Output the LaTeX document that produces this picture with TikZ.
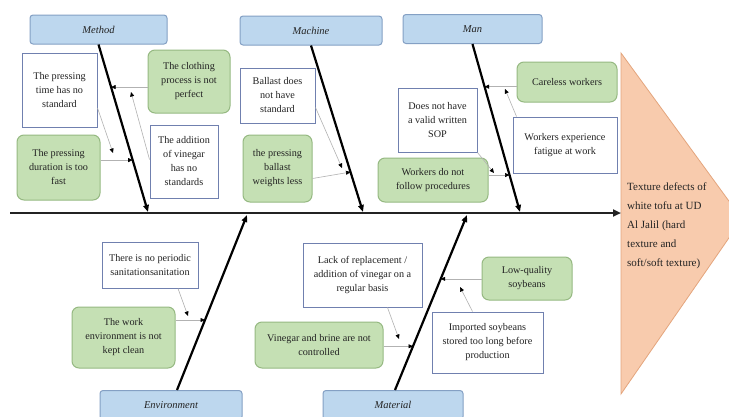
\documentclass[tikz,border=0pt]{standalone}
\usepackage{fontspec}
\setmainfont{Liberation Serif}
\usetikzlibrary{arrows.meta}
\definecolor{blueF}{RGB}{189,215,238}
\definecolor{blueD}{RGB}{132,160,196}
\definecolor{greenF}{RGB}{197,224,180}
\definecolor{greenD}{RGB}{150,185,130}
\definecolor{whiteD}{RGB}{112,128,175}
\definecolor{orangeF}{RGB}{248,203,173}
\definecolor{orangeD}{RGB}{228,165,125}
\definecolor{inkc}{RGB}{35,35,35}
\tikzset{
  labelbox/.style={draw=blueD, line width=1pt, fill=blueF, rounded corners=3pt,
    minimum height=29pt, inner sep=1pt, font=\fontsize{10.5}{13}\selectfont\itshape, text=inkc},
  greenbox/.style={draw=greenD, line width=1pt, fill=greenF, rounded corners=7pt,
    inner sep=2pt, align=center, font=\fontsize{10.2}{14}\selectfont, text=inkc},
  whitebox/.style={draw=whiteD, line width=1pt, fill=white,
    inner sep=2pt, align=center, font=\fontsize{10.2}{14}\selectfont, text=inkc},
  rib/.style={line width=2.2pt, black, -{Triangle[length=7pt,width=5.5pt]}},
  spine/.style={line width=2.6pt, inkc, -{Triangle[length=8pt,width=7pt]}},
  sub/.style={line width=0.6pt, gray!60, -{Triangle[length=4.5pt,width=4pt,black]}},
}
\begin{document}
\begin{tikzpicture}[x=1pt,y=-1pt]
\useasboundingbox (0,0) rectangle (729,416);
\clip (0,0) rectangle (729,416);
\fill[white] (0,0) rectangle (729,416);

% head
\path[fill=orangeF, draw=orangeD, line width=0.8pt] (621,53) -- (742,219) -- (621,394) -- cycle;
\node[anchor=north west, inner sep=0pt, align=left, text=inkc,
  font=\fontsize{11}{19}\selectfont] (head) at (627,183)
  {Texture defects of\\white tofu at UD\\Al Jalil (hard\\texture and\\soft/soft texture)};

% spine
\coordinate (sstart) at (10,213);
\coordinate (send) at (621,213);
\draw[spine] (sstart) -- (send);

% category labels
\node[labelbox, minimum width=137pt] (mlab) at (98.5,29.5) {Method};
\node[labelbox, minimum width=142pt] (klab) at (311,30.5) {Machine};
\node[labelbox, minimum width=139pt] (nlab) at (472.5,29) {Man};
\node[labelbox, minimum width=142pt] (elab) at (171,405) {Environment};
\node[labelbox, minimum width=140pt] (alab) at (393,405) {Material};

% spine points
\coordinate (pm) at (148,212);
\coordinate (pk) at (363,212);
\coordinate (pn) at (520,212);
\coordinate (pe) at (247,215);
\coordinate (pa) at (467,215);

% ribs
\draw[rib] (mlab.south) -- (pm);
\draw[rib] (klab.south) -- (pk);
\draw[rib] (nlab.south) -- (pn);
\draw[rib] ([xshift=6pt]elab.north) -- (pe);
\draw[rib] ([xshift=2pt]alab.north) -- (pa);

% points on ribs
\path (mlab.south) -- (pm) coordinate[pos=0.254] (m1) coordinate[pos=0.69] (m2);
\path (klab.south) -- (pk) coordinate[pos=0.76] (k1);
\path (nlab.south) -- (pn) coordinate[pos=0.254] (n1) coordinate[pos=0.78] (n2);
\path ([xshift=6pt]elab.north) -- (pe) coordinate[pos=0.40] (e1);
\path ([xshift=2pt]alab.north) -- (pa) coordinate[pos=0.635] (a1) coordinate[pos=0.25] (a2);

% Method causes
\node[whitebox, minimum width=75pt, minimum height=74pt] (mtime) at (59.5,90) {The pressing\\time has no\\standard};
\node[greenbox, minimum width=82pt, minimum height=63pt] (mcloth) at (189,81.5) {The clothing\\process is not\\perfect};
\node[greenbox, minimum width=83pt, minimum height=65pt] (mdur) at (58.5,167.5) {The pressing\\duration is too\\fast};
\node[whitebox, minimum width=68pt, minimum height=73pt] (mvin) at (184,161.5) {The addition\\of vinegar\\has no\\standards};
\coordinate (m1s) at (131,92);
\coordinate (m2s) at (113,153);
\draw[sub] (mcloth.west |- m1) -- (m1);
\draw[sub] (mdur.east |- m2) -- (m2);
\draw[sub] ([yshift=2pt]mvin.west) -- (m1s);
\draw[sub] ([yshift=-18pt]mtime.east) -- (m2s);

% Machine causes
\node[whitebox, minimum width=75pt, minimum height=55pt] (kball) at (277.5,95.5) {Ballast does\\not have\\standard};
\node[greenbox, minimum width=69pt, minimum height=67pt] (kweight) at (277.5,168.5) {the pressing\\ballast\\weights less};
\coordinate (k1s) at (342,168);
\draw[sub] ([yshift=-10pt]kweight.east) -- (k1);
\draw[sub] ([yshift=-12pt]kball.east) -- (k1s);

% Man causes
\node[greenbox, minimum width=100pt, minimum height=40pt] (ncare) at (567,82) {Careless workers};
\node[whitebox, minimum width=79pt, minimum height=64pt] (nsop) at (437.5,120) {Does not have\\a valid written\\SOP};
\node[whitebox, minimum width=104pt, minimum height=56pt] (nfat) at (565,145) {Workers experience\\fatigue at work};
\node[greenbox, minimum width=110pt, minimum height=44pt] (nfollow) at (433,180) {Workers do not\\follow procedures};
\coordinate (n1s) at (505,89);
\coordinate (n2s) at (494,173);
\draw[sub] (ncare.west |- n1) -- (n1);
\draw[sub] (nfollow.east |- n2) -- (n2);
\draw[sub] ([xshift=4pt]nfat.north west) -- (n1s);
\draw[sub] (nsop.south east) -- (n2s);

% Environment causes
\node[whitebox, minimum width=96pt, minimum height=46pt] (eperiod) at (150,265) {There is no periodic\\sanitationsanitation};
\node[greenbox, minimum width=103pt, minimum height=61pt] (eclean) at (123.5,337.5) {The work\\environment is not\\kept clean};
\coordinate (e1s) at (188,316);
\draw[sub] (eclean.east |- e1) -- (e1);
\draw[sub] ([xshift=28pt]eperiod.south) -- (e1s);

% Material causes
\node[whitebox, minimum width=119pt, minimum height=64pt] (alack) at (362.5,275) {Lack of replacement /\\addition of vinegar on a\\regular basis};
\node[greenbox, minimum width=90pt, minimum height=43pt] (alow) at (527,278.5) {Low-quality\\soybeans};
\node[greenbox, minimum width=128pt, minimum height=46pt] (avin) at (319,345) {Vinegar and brine are not\\controlled};
\node[whitebox, minimum width=111pt, minimum height=61pt] (aimp) at (487.5,342.5) {Imported soybeans\\stored too long before\\production};
\coordinate (a1s) at (460,287);
\coordinate (a2s) at (399,339);
\draw[sub] (alow.west |- a1) -- (a1);
\draw[sub] (avin.east |- a2) -- (a2);
\draw[sub] ([xshift=41pt]aimp.north west) -- (a1s);
\draw[sub] ([xshift=25pt]alack.south) -- (a2s);
\end{tikzpicture}
\end{document}
